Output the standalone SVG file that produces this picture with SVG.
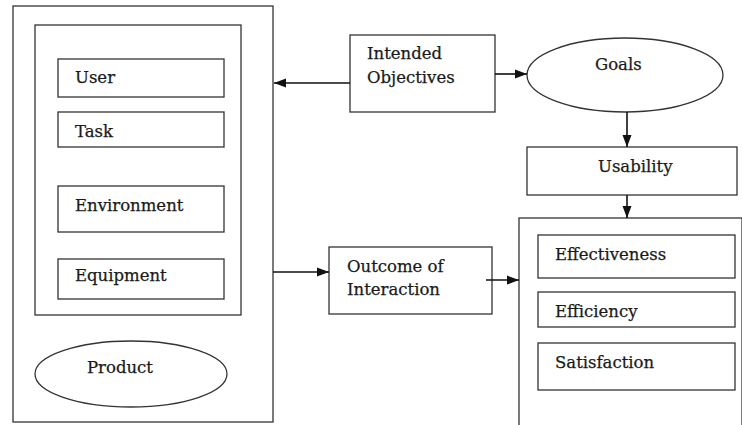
<svg xmlns="http://www.w3.org/2000/svg" width="742" height="425" viewBox="0 0 742 425">
<style>
.b{fill:#fff;stroke:#333;stroke-width:1.3}
.t{font-family:"DejaVu Serif","Liberation Serif",serif;font-size:16.5px;fill:#1a1a1a;stroke:#1a1a1a;stroke-width:0.25}
.c{fill:none;stroke:#111;stroke-width:1.6}
</style>
<defs>
<marker id="a" viewBox="0 0 12 10" refX="12" refY="5" markerWidth="12" markerHeight="10" markerUnits="userSpaceOnUse" orient="auto">
<path d="M0,0.5 L12,5 L0,9.5 z" fill="#111"/>
</marker>
</defs>
<rect width="742" height="425" fill="#fff"/>
<g id="product">
<rect class="b" x="13" y="6" width="260" height="416"/>
<rect class="b" x="35" y="25" width="206" height="290"/>
<ellipse class="b" cx="131" cy="374" rx="96" ry="33"/>
<text class="t" x="87" y="373">Product</text>
</g>
<g id="user"><rect class="b" x="58" y="59" width="166" height="38"/><text class="t" x="75" y="83">User</text></g>
<g id="task"><rect class="b" x="58" y="112" width="166" height="35"/><text class="t" x="75" y="137">Task</text></g>
<g id="environment"><rect class="b" x="58" y="186" width="166" height="46"/><text class="t" x="75" y="211">Environment</text></g>
<g id="equipment"><rect class="b" x="58" y="259" width="166" height="40"/><text class="t" x="75" y="281">Equipment</text></g>
<g id="intended"><rect class="b" x="350" y="35" width="145" height="77"/><text class="t" x="367" y="59">Intended</text><text class="t" x="367" y="83">Objectives</text></g>
<g id="goals"><ellipse class="b" cx="625" cy="75" rx="98" ry="37"/><text class="t" x="595" y="70">Goals</text></g>
<g id="usability"><rect class="b" x="527" y="147" width="210" height="48"/><text class="t" x="598" y="172">Usability</text></g>
<g id="outcome"><rect class="b" x="329" y="247" width="163" height="67"/><text class="t" x="347" y="272">Outcome of</text><text class="t" x="347" y="295">Interaction</text></g>
<g id="measures">
<rect class="b" x="519" y="218" width="223" height="210"/>
</g>
<g id="effectiveness"><rect class="b" x="538" y="235" width="197" height="43"/><text class="t" x="555" y="260">Effectiveness</text></g>
<g id="efficiency"><rect class="b" x="538" y="292" width="197" height="35"/><text class="t" x="555" y="317">Efficiency</text></g>
<g id="satisfaction"><rect class="b" x="538" y="343" width="197" height="47"/><text class="t" x="555" y="368">Satisfaction</text></g>
<g id="connectors">
<line class="c" x1="350" y1="83" x2="274" y2="83" marker-end="url(#a)"/>
<line class="c" x1="495" y1="74" x2="527" y2="74" marker-end="url(#a)"/>
<line class="c" x1="627" y1="112" x2="627" y2="147" marker-end="url(#a)"/>
<line class="c" x1="627" y1="195" x2="627" y2="218" marker-end="url(#a)"/>
<line class="c" x1="273" y1="272" x2="329" y2="272" marker-end="url(#a)"/>
<line class="c" x1="486" y1="280" x2="519" y2="280" marker-end="url(#a)"/>
</g>
</svg>
